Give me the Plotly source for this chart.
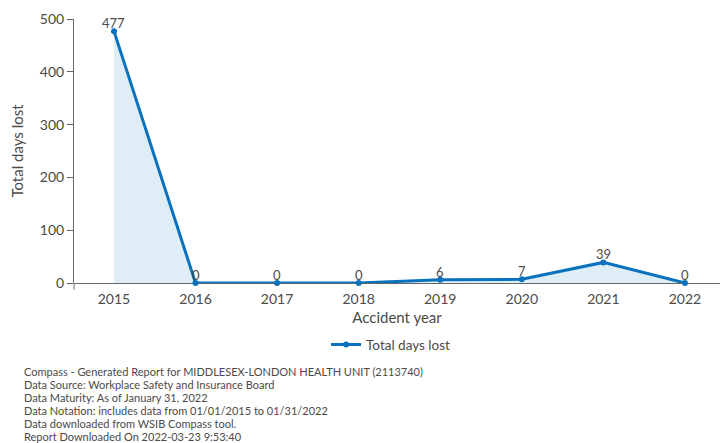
import plotly.graph_objects as go

years = [2015, 2016, 2017, 2018, 2019, 2020, 2021, 2022]
days_lost = [477, 0, 0, 0, 6, 7, 39, 0]
y_ticks = [0, 100, 200, 300, 400, 500]

footer_lines = [
    "Compass - Generated Report for MIDDLESEX-LONDON HEALTH UNIT (2113740)",
    "Data Source: Workplace Safety and Insurance Board",
    "Data Maturity: As of January 31, 2022",
    "Data Notation: includes data from 01/01/2015 to 01/31/2022",
    "Data downloaded from WSIB Compass tool.",
    "Report Downloaded On 2022-03-23 9:53:40",
]

line_color = "#0a72bd"
text_color = "#4a4a4a"
font_family = "Lato, 'Open Sans', sans-serif"

fig = go.Figure()
# shaded area under the series (kept out of the legend)
fig.add_trace(go.Scatter(
    x=years, y=days_lost,
    mode="none",
    fill="tozeroy",
    fillcolor="rgba(10,114,189,0.13)",
    showlegend=False, hoverinfo="skip",
))
fig.add_trace(go.Scatter(
    x=years, y=days_lost,
    mode="lines+markers",
    name="Total days lost",
    line=dict(color=line_color, width=3),
    marker=dict(color=line_color, size=6),
    cliponaxis=False,
))

# value labels sitting just above each point
for x, v in zip(years, days_lost):
    fig.add_annotation(
        x=x, y=v, text=str(v), showarrow=False,
        yanchor="bottom", yshift=-2,
        font=dict(size=13, color=text_color, family=font_family),
    )

# y-axis stub that drops below the baseline
fig.add_shape(type="line", xref="paper", yref="paper",
              x0=0, x1=0, y0=0, y1=-0.025,
              line=dict(color="#666666", width=1))

for i, line in enumerate(footer_lines):
    fig.add_annotation(
        text=line, xref="paper", yref="paper",
        x=-0.0805, y=-0.335 - i * 0.0495, xanchor="left", yanchor="middle",
        showarrow=False, align="left",
        font=dict(size=11, color=text_color, family=font_family),
    )

fig.update_layout(
    width=721, height=443,
    margin=dict(l=74, r=1, t=19, b=160),
    paper_bgcolor="white", plot_bgcolor="white",
    font=dict(family=font_family, color=text_color, size=14),
    showlegend=True,
    legend=dict(orientation="h", x=0.49, xanchor="center", y=-0.175, yanchor="top",
                font=dict(size=13.5, color=text_color)),
    xaxis=dict(
        range=[2014.51, 2022.43],
        tickvals=years, ticktext=[str(y) for y in years],
        showgrid=False, zeroline=False, showline=False,
        ticks="outside", ticklen=3, tickcolor="rgba(0,0,0,0)",
        tickfont=dict(size=14, color=text_color),
        title=dict(text="Accident year", font=dict(size=15, color=text_color), standoff=6),
    ),
    yaxis=dict(
        range=[0, 500],
        tickvals=y_ticks,
        showgrid=False, zeroline=True, zerolinecolor="#666666", zerolinewidth=1,
        showline=True, linecolor="#666666", linewidth=1,
        ticks="outside", ticklen=6, tickcolor="#666666",
        tickfont=dict(size=14, color=text_color),
        title=dict(text="Total days lost", font=dict(size=15, color=text_color), standoff=12),
    ),
)

fig.write_html("out.html")
